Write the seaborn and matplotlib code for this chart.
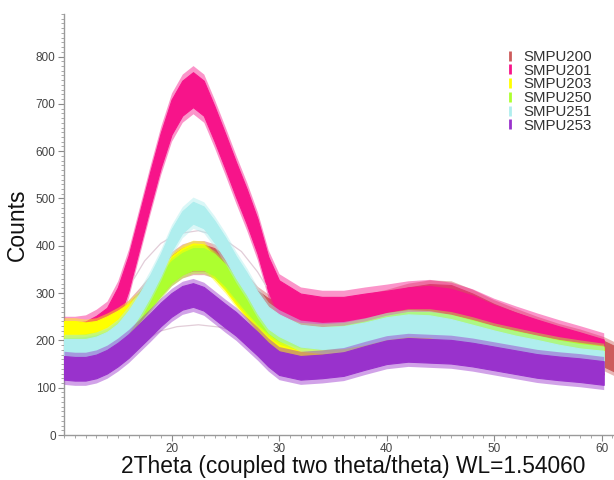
import matplotlib
matplotlib.use("Agg")
import matplotlib.pyplot as plt
from matplotlib.lines import Line2D
from matplotlib.ticker import MultipleLocator
import seaborn as sns
import pandas as pd

# ---- data (band centre, noise half-width, spike reach) ----
TWO_THETA = [10, 11, 12, 13, 14, 15, 16, 17, 18, 19, 20, 21, 22, 23, 24, 25, 26, 27,
             28, 29, 30, 32, 34, 36, 38, 40, 42, 44, 46, 48, 50, 52, 54, 56, 58, 60.2]
TWO_THETA_200 = TWO_THETA + [61.3]

SMPU200 = [200, 198, 198, 202, 210, 228, 250, 275, 302, 328, 352, 368, 375, 375, 368, 352, 330, 305,
           278, 262, 255, 252, 250, 252, 262, 272, 285, 292, 290, 272, 250, 232, 215, 200, 188, 172, 160]
SMPU201 = [200, 200, 203, 215, 232, 275, 342, 430, 518, 602, 672, 712, 730, 712, 658, 600, 540, 483,
           420, 340, 290, 262, 255, 255, 262, 268, 275, 278, 272, 258, 238, 222, 207, 193, 180, 165]
SMPU203 = [218, 218, 215, 218, 228, 240, 255, 275, 300, 328, 355, 372, 382, 380, 355, 330, 300, 272,
           243, 215, 192, 180, 180, 184, 193, 205, 213, 216, 212, 204, 196, 186, 178, 172, 166, 160]
SMPU250 = [182, 182, 184, 188, 195, 212, 235, 262, 290, 318, 345, 362, 372, 372, 360, 338, 310, 283,
           258, 238, 222, 208, 205, 208, 217, 229, 237, 237, 231, 220, 207, 197, 187, 178, 171, 164]
SMPU251 = [180, 180, 180, 185, 195, 212, 240, 275, 315, 360, 412, 450, 470, 460, 430, 395, 355, 320,
           280, 248, 232, 210, 205, 207, 215, 226, 232, 230, 222, 210, 198, 187, 178, 168, 160, 155]
SMPU253 = [142, 140, 140, 145, 155, 170, 188, 210, 232, 255, 275, 290, 296, 288, 270, 252, 235, 214,
           193, 170, 152, 142, 145, 150, 163, 175, 180, 178, 176, 170, 162, 154, 146, 141, 137, 131]

NOISE = {"SMPU200": 27, "SMPU201": 37, "SMPU203": 23, "SMPU250": 23, "SMPU251": 23, "SMPU253": 25}
SPIKE = {"SMPU200": 9, "SMPU201": 14, "SMPU203": 7, "SMPU250": 7, "SMPU251": 10, "SMPU253": 10}

# faint fitted arcs
ARC1_X = [16.5, 17.5, 19, 20.5, 22.5, 24.5, 26.5, 28, 28.8]
ARC1_Y = [330, 368, 405, 425, 432, 420, 388, 345, 315]
ARC2_X = [17.5, 19, 20.5, 22.5, 24.5, 26, 27.2]
ARC2_Y = [200, 220, 229, 233, 228, 218, 205]

SERIES = ["SMPU200", "SMPU201", "SMPU203", "SMPU250", "SMPU251", "SMPU253"]
VALUES = [SMPU200, SMPU201, SMPU203, SMPU250, SMPU251, SMPU253]
XS = [TWO_THETA_200, TWO_THETA, TWO_THETA, TWO_THETA, TWO_THETA, TWO_THETA]
COLORS = ["#cd5c5c", "#f7148a", "#ffff00", "#adff2f", "#afeeee", "#9932cc"]

sns.set_theme(style="white")
plt.rcParams["font.family"] = ["Liberation Sans", "DejaVu Sans"]

fig = plt.figure(figsize=(6.14, 4.80), dpi=100)
ax = fig.add_axes([64 / 614, 45 / 480, 551 / 614, 421 / 480])


def band_frame(xs, vals, half):
    rows = []
    for x, v in zip(xs, vals):
        rows.append({"x": x, "y": v - half})
        rows.append({"x": x, "y": v + half})
    return pd.DataFrame(rows)


for i, (name, xs, vals, col) in enumerate(zip(SERIES, XS, VALUES, COLORS)):
    hw = NOISE[name]
    z = 2 + i
    # spike fringe (lighter, slightly wider)
    sns.lineplot(data=band_frame(xs, vals, hw + SPIKE[name]), x="x", y="y", estimator="mean",
                 errorbar=("pi", 100), color=col, linewidth=0, zorder=z - 0.2, ax=ax,
                 err_kws={"alpha": 0.45, "zorder": z - 0.2, "linewidth": 0})
    # dense noise band
    sns.lineplot(data=band_frame(xs, vals, hw), x="x", y="y", estimator="mean",
                 errorbar=("pi", 100), color=col, linewidth=0.6, zorder=z, ax=ax,
                 err_kws={"alpha": 1, "zorder": z, "linewidth": 0.8, "edgecolor": col})

# faint arcs
sns.lineplot(x=ARC1_X, y=ARC1_Y, color="#e2cdd8", linewidth=0.9, zorder=4.5, ax=ax)
sns.lineplot(x=ARC2_X, y=ARC2_Y, color="#e2cdd8", linewidth=0.9, zorder=4.5, ax=ax)

ax.set_xlim(10, 61.25)
ax.set_ylim(0, 890)
ax.xaxis.set_major_locator(MultipleLocator(10))
ax.xaxis.set_minor_locator(MultipleLocator(1))
ax.yaxis.set_major_locator(MultipleLocator(100))
ax.yaxis.set_minor_locator(MultipleLocator(10))
ax.set_yticks([0, 100, 200, 300, 400, 500, 600, 700, 800])
ax.set_xticks([20, 30, 40, 50, 60])

for s in ["top", "right"]:
    ax.spines[s].set_visible(False)
for s in ["left", "bottom"]:
    ax.spines[s].set_color("#9a9a9a")
    ax.spines[s].set_linewidth(1.0)

ax.tick_params(axis="both", which="major", direction="out", length=4, width=0.8,
               color="#8a8a8a", labelsize=8.5, labelcolor="#444444", bottom=True, left=True, pad=2)
ax.tick_params(axis="both", which="minor", direction="out", length=2.5, width=0.6,
               color="#9a9a9a", bottom=True, left=True)

ax.set_xlabel("2Theta (coupled two theta/theta) WL=1.54060", fontsize=16.4, color="#111111")
ax.set_ylabel("Counts", fontsize=16.4, color="#111111", labelpad=5)
ax.xaxis.set_label_coords(0.525, -0.048)

handles = [Line2D([], [], color=c, marker="|", linestyle="none", markersize=7, markeredgewidth=2)
           for c in COLORS]
leg = ax.legend(handles, SERIES, loc="upper left", bbox_to_anchor=(505 / 614, 1 - 50 / 480),
                bbox_transform=fig.transFigure, frameon=False, fontsize=10.8, labelspacing=-0.02,
                handlelength=0.6, handletextpad=0.6, borderpad=0, borderaxespad=0)
for t in leg.get_texts():
    t.set_color("#333333")

fig.savefig("out.png", dpi=100)
